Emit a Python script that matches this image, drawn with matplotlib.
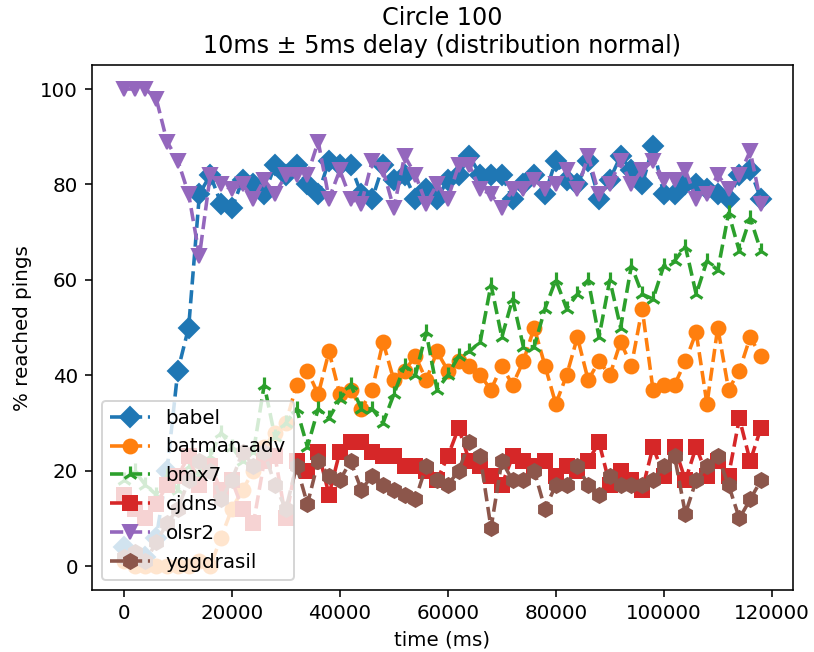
import numpy as np
import matplotlib
matplotlib.use("Agg")
import matplotlib.pyplot as plt

# time axis: one sample every 2 s
time_ms = np.arange(0, 120000, 2000)

babel = [4, 2, 2, 6, 20, 41, 50, 78, 82, 76, 75, 81, 80, 78, 84, 82, 84, 80, 78, 85,
         84, 84, 78, 77, 84, 81, 82, 77, 79, 77, 81, 82, 86, 82, 82, 82, 77, 80, 82, 78,
         85, 81, 80, 85, 77, 81, 86, 83, 80, 88, 78, 78, 80, 80, 79, 78, 77, 82, 83, 77]
batman_adv = [1, 0, 0, 0, 0, 0, 0, 1, 0, 6, 12, 16, 20, 25, 28, 30, 38, 41, 36, 45,
              36, 37, 33, 37, 47, 39, 41, 44, 39, 45, 41, 43, 42, 40, 37, 42, 38, 43, 50, 42,
              34, 40, 48, 39, 43, 40, 47, 42, 54, 37, 38, 38, 43, 49, 34, 50, 37, 41, 48, 44]
bmx7 = [18, 20, 17, 15, 19, 16, 21, 19, 23, 28, 25, 22, 24, 38, 27, 30, 33, 25, 33, 31,
        35, 38, 33, 33, 30, 36, 42, 40, 49, 37, 40, 44, 45, 47, 59, 48, 56, 46, 46, 54,
        60, 54, 57, 60, 48, 60, 50, 63, 57, 56, 63, 64, 67, 57, 64, 62, 74, 66, 73, 66]
cjdns = [15, 12, 10, 13, 17, 19, 23, 17, 21, 16, 18, 12, 9, 22, 23, 10, 22, 20, 24, 15,
         24, 26, 26, 24, 23, 23, 21, 21, 20, 18, 23, 29, 22, 21, 19, 17, 23, 22, 21, 22,
         19, 21, 20, 22, 26, 17, 20, 18, 16, 25, 19, 25, 18, 25, 19, 22, 19, 31, 22, 29]
olsr2 = [100, 100, 100, 98, 89, 85, 78, 65, 82, 80, 79, 80, 77, 81, 78, 82, 82, 82, 89, 77,
         83, 77, 76, 85, 83, 75, 86, 82, 76, 80, 77, 84, 84, 79, 78, 75, 79, 79, 81, 79,
         80, 83, 79, 86, 78, 80, 85, 80, 83, 85, 81, 81, 83, 77, 78, 82, 79, 82, 87, 76]
yggdrasil = [2, 3, 1, 5, 9, 12, 18, 22, 20, 14, 18, 24, 21, 24, 17, 12, 21, 13, 22, 19,
             18, 22, 16, 19, 17, 16, 15, 14, 21, 18, 17, 20, 26, 23, 8, 22, 18, 18, 20, 12,
             17, 17, 21, 17, 15, 19, 17, 17, 17, 18, 21, 23, 11, 18, 21, 23, 17, 10, 14, 18]

series = [("babel", babel, "D", 7),
          ("batman-adv", batman_adv, "o", 7),
          ("bmx7", bmx7, "2", 8),
          ("cjdns", cjdns, "s", 7),
          ("olsr2", olsr2, "v", 7.5),
          ("yggdrasil", yggdrasil, "h", 7.5)]

fig = plt.figure(figsize=(814 / 143, 652 / 143), dpi=143)
ax = fig.add_subplot(111)
fig.subplots_adjust(left=0.113, right=0.974, top=0.900, bottom=0.095)

for name, vals, mk, ms in series:
    ax.plot(time_ms, vals, linestyle="--", linewidth=1.8, marker=mk, markersize=ms,
            markeredgewidth=1.6 if mk == "2" else 1.0, label=name)

ax.set_title("Circle 100\n10ms \u00b1 5ms delay (distribution normal)")
ax.set_xlabel("time (ms)")
ax.set_ylabel("% reached pings")
ax.legend(loc="lower left")

fig.savefig("out.png", dpi=143)
